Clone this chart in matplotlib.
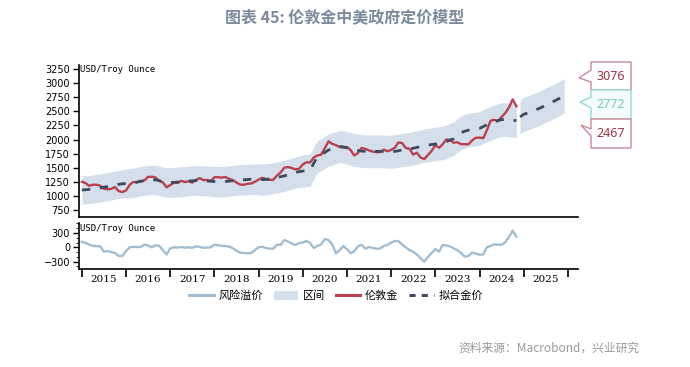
import numpy as np
import pandas as pd
import matplotlib
matplotlib.use('Agg')
import matplotlib.pyplot as plt
import matplotlib.dates as mdates
from matplotlib.patches import Polygon, Patch
from matplotlib.lines import Line2D

# maandreeksen
months = pd.date_range('2015-01-01', '2024-11-01', freq='MS')
fc_months = pd.date_range('2024-12-01', '2025-12-01', freq='MS')

# 伦敦金 (maandgemiddelde)
gold = [1251, 1227, 1179, 1198, 1199, 1181, 1128, 1118, 1125, 1157, 1085, 1068,
        1097, 1199, 1246, 1242, 1260, 1276, 1337, 1340, 1326, 1267, 1238, 1152,
        1192, 1234, 1231, 1266, 1246, 1260, 1236, 1283, 1315, 1280, 1283, 1265,
        1331, 1331, 1325, 1335, 1304, 1281, 1238, 1201, 1198, 1215, 1221, 1250,
        1291, 1320, 1301, 1286, 1284, 1359, 1413, 1500, 1511, 1495, 1471, 1480,
        1560, 1597, 1591, 1683, 1716, 1732, 1846, 1968, 1921, 1900, 1866, 1858,
        1867, 1808, 1718, 1760, 1850, 1834, 1807, 1785, 1775, 1777, 1821, 1790,
        1817, 1856, 1948, 1937, 1849, 1836, 1732, 1765, 1681, 1654, 1726, 1798,
        1898, 1854, 1912, 2000, 1992, 1943, 1951, 1918, 1916, 1916, 1985, 2030,
        2034, 2024, 2160, 2331, 2350, 2326, 2398, 2470, 2571, 2710, 2590]

# 拟合金价
fitted = [1105, 1110, 1115, 1120, 1130, 1140, 1155, 1165, 1175, 1195, 1205, 1215,
          1220, 1225, 1230, 1245, 1260, 1270, 1280, 1285, 1285, 1270, 1250, 1240,
          1238, 1240, 1245, 1250, 1255, 1262, 1268, 1272, 1270, 1265, 1262, 1260,
          1255, 1252, 1250, 1255, 1262, 1270, 1278, 1282, 1285, 1290, 1297, 1298,
          1295, 1290, 1292, 1300, 1315, 1326, 1340, 1355, 1375, 1395, 1415, 1430,
          1440, 1450, 1455, 1580, 1700, 1730, 1770, 1815, 1835, 1855, 1875, 1870,
          1850, 1830, 1815, 1805, 1795, 1791, 1790, 1790, 1791, 1790, 1788, 1785,
          1785, 1790, 1800, 1815, 1820, 1830, 1845, 1860, 1875, 1890, 1900, 1911,
          1920, 1930, 1940, 1960, 1990, 2012, 2070, 2120, 2148, 2165, 2175, 2185,
          2195, 2230, 2260, 2280, 2310, 2335, 2352, 2355, 2345, 2340, 2335]
fitted_fc = [2400, 2447, 2470, 2495, 2518, 2545, 2575, 2607, 2640, 2672, 2705, 2738, 2772]

# 风险溢价
premium = [115, 90, 60, 30, 25, 20, -90, -80, -100, -120, -180, -185,
           -80, 0, 10, 5, 10, 55, 40, 0, 45, 30, -60, -150,
           -20, 0, -5, 5, -5, 0, -10, 20, 10, -10, -5, 0,
           55, 45, 30, 28, 15, -20, -70, -112, -120, -125, -120, -60,
           0, 10, -15, -28, -30, 55, 50, 153, 120, 80, 48, 90,
           100, 132, 90, -14, 30, 60, 175, 150, 60, -126, -60, 27,
           -40, -126, -80, 20, 55, -28, 7, -10, -30, -28, 30, 50,
           100, 132, 130, 60, 0, -60, -92, -150, -230, -302, -200, -120,
           -36, -90, 48, 40, 20, -21, -60, -120, -197, -180, -113, -130,
           -155, -150, 0, 30, 63, 55, 50, 110, 220, 350, 223]

# 区间 halve breedte per jaar
band_half = {2015: 250, 2016: 260, 2017: 265, 2018: 270, 2019: 275, 2020: 285,
             2021: 290, 2022: 295, 2023: 298, 2024: 300, 2025: 304}

callout_labels = ['3076', '2772', '2467']

years = list(range(2015, 2026))

# kleuren
c_band = '#d5dfeb'
c_gold = '#b8404f'
c_fit = '#3e4a5e'
c_prem = '#a3bdd0'

W, H = 690, 367
fig = plt.figure(figsize=(W / 100, H / 100), dpi=100)

ax = fig.add_axes([78.5 / W, 1 - 217 / H, (578 - 78.5) / W, (217 - 65) / H])
ax2 = fig.add_axes([78.5 / W, 1 - 269 / H, (578 - 78.5) / W, (269 - 223) / H])

fitted = np.array(fitted)
fitted_fc = np.array(fitted_fc)
half_hist = np.array([band_half[y] for y in months.year])
half_fc = np.array([band_half[y] for y in fc_months.year])

ax.fill_between(months, fitted - half_hist, fitted + half_hist, color=c_band, lw=0)
ax.fill_between(fc_months, fitted_fc - half_fc, fitted_fc + half_fc, color=c_band, lw=0)
ax.plot(months, gold, color=c_gold, lw=1.7)
ax.plot(months, fitted, color=c_fit, lw=2, linestyle=(0, (3, 3.5)))
ax.plot(fc_months, fitted_fc, color=c_fit, lw=2, linestyle=(0, (3, 3.5)))

ax2.plot(months, premium, color=c_prem, lw=1.7)

x0 = pd.Timestamp('2014-12-04')
x1 = pd.Timestamp('2026-03-25')
for a in (ax, ax2):
    a.set_xlim(x0, x1)
    a.spines['top'].set_visible(False)
    a.spines['right'].set_visible(False)
    a.spines['left'].set_linewidth(1.2)
    a.spines['bottom'].set_linewidth(1.2)
    a.tick_params(axis='y', direction='out', length=4, width=1, labelsize=7, pad=2)

ax.set_ylim(626, 3321)
ax.set_yticks(range(750, 3251, 250))
ax.set_xticks([])

ax2.set_ylim(-455, 510)
ax2.set_yticks([-300, 0, 300])
ax2.set_yticks(range(-400, 501, 100), minor=True)
ax2.tick_params(axis='y', which='minor', length=2)
ax2.set_xticks([pd.Timestamp(f'{y}-01-01') for y in years + [2026]])
ax2.set_xticks([pd.Timestamp(f'{y}-07-01') for y in years], minor=True)
ax2.set_xticklabels([])
ax2.set_xticklabels([str(y) for y in years], minor=True, family='DejaVu Serif', fontsize=7.5)
ax2.tick_params(axis='x', which='major', direction='out', length=6, width=1.2)
ax2.tick_params(axis='x', which='minor', length=0, pad=4)

ax.text(0.003, 1 - 4 / 152, 'USD/Troy Ounce', transform=ax.transAxes, family='DejaVu Sans Mono',
        fontsize=6.5, va='center', ha='left')
ax2.text(0.003, 1 - 5 / 46, 'USD/Troy Ounce', transform=ax2.transAxes, family='DejaVu Sans Mono',
         fontsize=6.5, va='center', ha='left')

# legenda
handles = [Line2D([], [], color=c_prem, lw=2.2),
           Patch(facecolor=c_band, edgecolor='none'),
           Line2D([], [], color=c_gold, lw=2.2),
           Line2D([], [], color=c_fit, lw=2.2, linestyle=(0, (2, 2)))]
fig.legend(handles, ['风险溢价', '区间', '伦敦金', '拟合金价'], loc='center',
           bbox_to_anchor=(336 / W, 1 - 296 / H), ncol=4, frameon=False,
           prop={'family': 'Noto Sans CJK SC', 'size': 8}, handlelength=2.2,
           handleheight=0.9, columnspacing=1.0, handletextpad=0.4)

# callouts rechts
def fp(x, y):
    return (x / W, 1 - y / H)

shapes = [
    (62, 90, (70, 82), (579, 78), '#c98a94', '#ffffff', '#9c3344'),
    (90, 119, (97, 108), (580, 102), '#93dcd5', '#f3fcfb', '#74c9c1'),
    (119, 148, (129, 136), (581, 125), '#c98a94', '#ffffff', '#9c3344'),
]
for (top, bot, (p1, p2), tip, ec, fc, tc), lab in zip(shapes, callout_labels):
    pts = [fp(591, top), fp(631, top), fp(631, bot), fp(591, bot),
           fp(591, p2), fp(*tip), fp(591, p1)]
    fig.add_artist(Polygon(pts, closed=True, transform=fig.transFigure,
                           facecolor=fc, edgecolor=ec, lw=1))
    fig.text(611 / W, 1 - (top + bot) / 2 / H, lab, ha='center', va='center',
             fontsize=9, color=tc, family='Noto Sans')

fig.text(345 / W, 1 - 17 / H, '图表 45: 伦敦金中美政府定价模型', ha='center', va='center',
         fontsize=11.5, fontweight='bold', color='#7b8a9c', family=['Noto Sans CJK SC', 'DejaVu Sans'])
fig.text(640 / W, 1 - 348 / H, '资料来源：Macrobond，兴业研究', ha='right', va='center',
         fontsize=8.5, color='#9a9a9a', family=['Noto Sans CJK SC', 'DejaVu Sans'])

fig.savefig('out.png', dpi=100)
